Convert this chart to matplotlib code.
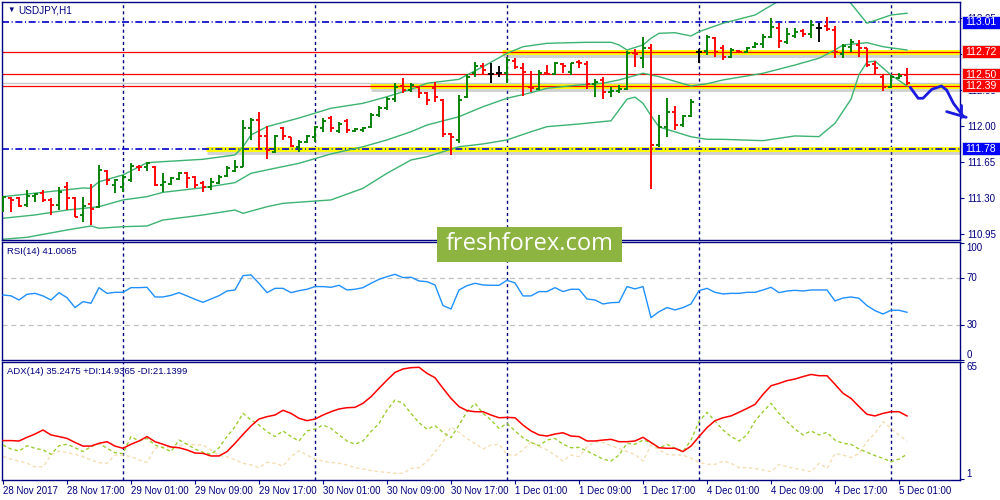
import numpy as np
import matplotlib
matplotlib.use("Agg")
import matplotlib.pyplot as plt
from matplotlib.collections import LineCollection
from matplotlib.patches import Rectangle
import matplotlib.patheffects as pe

plt.rcParams['font.family'] = ['Liberation Sans', 'DejaVu Sans']

# ---------------- data ----------------
symbol = "USDJPY,H1"
opens = [111.232, 111.300, 111.300, 111.232, 111.319, 111.352, 111.281, 111.232, 111.404, 111.297,
         111.135, 111.242, 111.215, 111.565, 111.426, 111.410, 111.475, 111.604, 111.598, 111.598,
         111.426, 111.436, 111.482, 111.546, 111.501, 111.449, 111.404, 111.449, 111.514, 111.565,
         111.604, 111.980, 112.058, 111.903, 111.747, 111.980, 111.893, 111.796, 111.844, 111.893,
         111.980, 112.077, 111.951, 112.048, 111.951, 111.961, 111.990, 112.107, 112.175, 112.262,
         112.388, 112.349, 112.379, 112.320, 112.369, 112.252, 111.922, 111.864, 112.281, 112.515,
         112.583, 112.505, 112.515, 112.518, 112.634, 112.563, 112.382, 112.356, 112.518, 112.505,
         112.599, 112.527, 112.624, 112.602, 112.408, 112.447, 112.333, 112.343, 112.356, 112.712,
         112.658, 112.755, 111.815, 111.993, 112.139, 112.009, 112.097, 112.722, 112.728, 112.858,
         112.761, 112.673, 112.731, 112.722, 112.770, 112.794, 112.867, 112.955, 112.819, 112.877,
         112.923, 112.891, 112.949, 112.974, 112.932, 112.696, 112.770, 112.787, 112.755, 112.599,
         112.479, 112.382, 112.469, 112.495]
highs = [111.319, 111.307, 111.307, 111.378, 111.346, 111.378, 111.297, 111.404, 111.458, 111.313,
         111.313, 111.439, 111.621, 111.572, 111.482, 111.524, 111.637, 111.621, 111.653, 111.611,
         111.540, 111.501, 111.556, 111.556, 111.514, 111.468, 111.491, 111.524, 111.611, 111.669,
         112.058, 112.077, 112.136, 112.000, 111.912, 111.990, 111.896, 111.864, 111.912, 112.000,
         112.077, 112.097, 112.039, 112.068, 111.980, 111.990, 112.126, 112.194, 112.281, 112.417,
         112.466, 112.417, 112.388, 112.330, 112.427, 112.262, 111.932, 112.301, 112.505, 112.622,
         112.612, 112.612, 112.583, 112.673, 112.658, 112.612, 112.537, 112.544, 112.592, 112.619,
         112.615, 112.615, 112.641, 112.634, 112.453, 112.479, 112.382, 112.398, 112.731, 112.745,
         112.867, 112.796, 112.107, 112.269, 112.194, 112.107, 112.259, 112.745, 112.884, 112.867,
         112.787, 112.755, 112.738, 112.770, 112.819, 112.891, 113.052, 112.998, 112.949, 112.949,
         112.942, 113.030, 112.998, 113.062, 112.974, 112.794, 112.845, 112.835, 112.761, 112.631,
         112.495, 112.495, 112.512, 112.566]
lows = [111.167, 111.167, 111.212, 111.215, 111.264, 111.264, 111.135, 111.183, 111.183, 111.112,
        111.067, 111.038, 111.200, 111.426, 111.346, 111.361, 111.458, 111.565, 111.565, 111.417,
        111.361, 111.426, 111.475, 111.394, 111.394, 111.361, 111.378, 111.436, 111.501, 111.556,
        111.598, 111.864, 111.766, 111.679, 111.737, 111.864, 111.796, 111.747, 111.835, 111.844,
        111.941, 111.941, 111.932, 111.932, 111.941, 111.941, 111.980, 112.087, 112.155, 112.233,
        112.320, 112.330, 112.272, 112.204, 112.233, 111.893, 111.718, 111.835, 112.272, 112.476,
        112.495, 112.417, 112.476, 112.420, 112.551, 112.291, 112.333, 112.349, 112.495, 112.495,
        112.518, 112.495, 112.560, 112.356, 112.284, 112.259, 112.284, 112.323, 112.349, 112.576,
        112.560, 111.385, 111.793, 111.896, 111.961, 111.993, 112.084, 112.609, 112.690, 112.673,
        112.641, 112.658, 112.706, 112.706, 112.755, 112.761, 112.852, 112.761, 112.794, 112.852,
        112.867, 112.852, 112.819, 112.923, 112.658, 112.658, 112.716, 112.673, 112.576, 112.495,
        112.340, 112.366, 112.456, 112.398]
closes = [111.310, 111.281, 111.222, 111.319, 111.339, 111.281, 111.232, 111.361, 111.297, 111.118,
          111.225, 111.193, 111.572, 111.475, 111.475, 111.501, 111.611, 111.598, 111.637, 111.426,
          111.458, 111.491, 111.546, 111.491, 111.426, 111.410, 111.458, 111.501, 111.589, 111.604,
          111.977, 112.058, 111.903, 111.766, 111.903, 111.903, 111.805, 111.844, 111.903, 111.990,
          112.048, 111.980, 112.019, 111.961, 111.971, 111.980, 112.107, 112.175, 112.262, 112.379,
          112.349, 112.398, 112.320, 112.252, 112.281, 111.922, 111.893, 112.252, 112.476, 112.583,
          112.544, 112.505, 112.515, 112.641, 112.570, 112.524, 112.366, 112.512, 112.502, 112.609,
          112.583, 112.609, 112.609, 112.408, 112.430, 112.333, 112.343, 112.356, 112.706, 112.699,
          112.755, 111.815, 111.987, 112.139, 112.009, 112.097, 112.236, 112.722, 112.867, 112.722,
          112.673, 112.738, 112.716, 112.761, 112.794, 112.867, 112.964, 112.826, 112.891, 112.916,
          112.891, 112.981, 112.949, 112.942, 112.722, 112.780, 112.813, 112.761, 112.592, 112.566,
          112.382, 112.479, 112.488, 112.415]

# Bollinger bands (bar index, price)
bb_upper_idx = [0, 10, 11, 12, 15, 18, 20, 25, 29, 30, 31, 33, 37, 41, 45, 48, 51, 53, 57, 58,
                60, 63, 65, 68, 73, 76, 77, 78, 80, 81, 82, 84, 86, 87, 90, 94, 96, 98, 101, 104,
                106, 108, 111, 113]
bb_upper = [111.313, 111.397, 111.394, 111.458, 111.524, 111.643, 111.653, 111.676, 111.718, 111.798,
            111.912, 111.993, 112.077, 112.172, 112.220, 112.284, 112.356, 112.415, 112.453, 112.495,
            112.576, 112.706, 112.770, 112.803, 112.813, 112.813, 112.787, 112.738, 112.787, 112.852,
            112.900, 112.906, 112.874, 112.916, 112.998, 113.078, 113.170, 113.260, 113.330, 113.300,
            113.190, 112.998, 113.078, 113.095]
bb_mid_idx = [0, 4, 8, 12, 15, 18, 20, 25, 29, 31, 34, 37, 41, 45, 48, 51, 53, 57, 60, 63,
              66, 68, 72, 75, 77, 80, 82, 86, 88, 90, 95, 99, 102, 104, 105, 108, 110, 113]
bb_mid = [111.103, 111.135, 111.183, 111.215, 111.281, 111.313, 111.355, 111.400, 111.449, 111.540,
          111.589, 111.637, 111.728, 111.798, 111.864, 111.944, 112.009, 112.090, 112.187, 112.269,
          112.323, 112.366, 112.398, 112.415, 112.447, 112.512, 112.479, 112.388, 112.410, 112.447,
          112.512, 112.592, 112.658, 112.738, 112.787, 112.809, 112.770, 112.738]
bb_low_idx = [0, 3, 8, 11, 12, 15, 18, 20, 25, 29, 30, 33, 35, 41, 45, 48, 51, 53, 57, 60,
              63, 66, 68, 72, 76, 78, 79, 80, 81, 82, 86, 88, 90, 95, 99, 102, 104, 106, 107, 108,
              109, 111, 113]
bb_low = [110.899, 110.918, 110.989, 111.028, 111.006, 111.021, 111.028, 111.086, 111.135, 111.183,
          111.151, 111.215, 111.248, 111.281, 111.394, 111.540, 111.669, 111.701, 111.798, 111.825,
          111.864, 111.944, 111.993, 112.019, 112.050, 112.260, 112.280, 112.220, 112.100, 111.990,
          111.895, 111.870, 111.870, 111.857, 111.903, 111.896, 112.026, 112.260, 112.500, 112.620,
          112.630, 112.495, 112.388]

rsi = [55.7, 55.0, 51.4, 56.3, 57.1, 54.9, 51.4, 57.7, 53.4, 44.9,
       50.0, 48.6, 62.0, 57.1, 58.0, 58.0, 62.0, 62.0, 62.3, 54.0,
       54.0, 55.4, 57.7, 54.9, 52.0, 49.4, 52.3, 55.1, 59.1, 60.0,
       72.3, 72.9, 65.7, 57.7, 61.4, 61.4, 57.7, 59.4, 60.6, 62.9,
       62.9, 62.3, 64.0, 60.0, 60.6, 62.0, 65.7, 69.1, 71.4, 73.4,
       70.6, 70.9, 67.7, 67.1, 64.3, 46.6, 43.7, 60.0, 63.7, 65.7,
       64.3, 64.0, 64.0, 68.3, 66.0, 54.9, 54.9, 58.6, 58.6, 62.0,
       58.6, 60.6, 60.6, 52.3, 51.4, 48.0, 49.1, 49.4, 62.9, 60.9,
       62.9, 36.3, 41.4, 44.9, 42.9, 44.9, 48.0, 59.4, 61.4, 58.0,
       56.6, 57.1, 57.1, 58.0, 58.0, 60.0, 62.3, 57.7, 59.1, 59.7,
       59.1, 60.0, 60.0, 60.0, 50.6, 53.1, 54.0, 52.9, 46.6, 42.3,
       39.4, 42.6, 42.6, 40.9]
adx = [22.0, 22.0, 21.8, 23.8, 25.6, 27.8, 25.1, 24.2, 23.2, 21.0,
       19.0, 19.0, 20.5, 21.4, 19.0, 17.8, 20.0, 21.8, 24.2, 21.4,
       20.0, 18.5, 18.1, 16.9, 15.2, 15.0, 13.6, 13.6, 16.0, 20.5,
       25.4, 30.0, 33.8, 35.1, 36.0, 38.6, 36.9, 34.2, 32.9, 33.8,
       36.0, 37.8, 39.3, 40.0, 40.2, 42.4, 46.0, 50.6, 55.1, 59.3,
       61.2, 61.9, 62.1, 58.8, 56.4, 50.6, 45.1, 40.6, 38.4, 37.8,
       37.8, 36.0, 34.5, 34.7, 34.5, 30.5, 27.3, 25.1, 24.5, 25.6,
       26.3, 24.5, 24.2, 21.8, 21.8, 22.3, 22.7, 21.4, 21.4, 21.8,
       23.8, 21.0, 18.1, 17.8, 17.8, 16.0, 19.0, 24.2, 29.1, 32.9,
       34.5, 35.5, 37.5, 39.6, 41.8, 47.3, 52.0, 53.3, 54.8, 55.7,
       57.0, 58.2, 57.5, 57.5, 52.8, 47.9, 45.1, 40.6, 36.4, 35.5,
       36.9, 37.8, 37.8, 35.5]
plus_di = [19.6, 17.4, 16.3, 19.2, 17.8, 16.9, 14.5, 19.2, 20.0, 18.1,
           16.0, 18.7, 20.5, 17.8, 15.4, 14.9, 24.2, 21.8, 23.2, 19.6,
           18.1, 16.0, 22.3, 20.0, 17.4, 15.6, 14.5, 18.1, 24.2, 29.6,
           36.9, 33.3, 30.5, 26.9, 24.2, 27.3, 24.2, 21.8, 27.3, 28.3,
           30.5, 28.7, 25.1, 21.8, 20.0, 21.8, 26.9, 31.4, 38.7, 44.2,
           42.4, 36.9, 31.8, 28.2, 30.2, 26.5, 23.6, 30.5, 37.8, 42.4,
           36.9, 33.3, 28.7, 31.4, 27.3, 23.6, 21.0, 19.2, 22.3, 23.2,
           20.0, 18.1, 18.3, 16.3, 14.1, 11.9, 10.8, 14.1, 20.5, 20.0,
           22.3, 21.0, 17.8, 20.0, 17.8, 16.0, 22.3, 32.4, 37.5, 32.7,
           27.8, 24.2, 21.8, 25.1, 32.7, 37.8, 42.4, 36.9, 32.4, 28.3,
           25.1, 27.3, 25.1, 26.5, 22.3, 20.5, 20.0, 17.4, 15.6, 13.8,
           12.3, 10.5, 11.9, 14.5]
minus_di = [13.2, 11.9, 10.8, 9.6, 7.7, 7.7, 14.1, 16.3, 15.4, 14.5,
            13.2, 11.4, 9.9, 9.6, 14.1, 14.1, 13.2, 11.4, 10.1, 17.8,
            18.7, 18.1, 19.2, 20.0, 19.6, 19.6, 16.9, 13.8, 13.2, 11.4,
            9.6, 8.7, 7.2, 10.1, 9.6, 8.1, 13.2, 16.5, 14.1, 11.9,
            10.8, 10.1, 9.6, 8.7, 7.2, 6.5, 5.6, 5.0, 4.6, 4.1,
            4.1, 6.8, 7.2, 10.5, 16.0, 21.4, 29.6, 26.5, 23.2, 20.5,
            17.4, 19.6, 20.0, 14.5, 13.8, 16.9, 21.4, 18.7, 16.9, 14.1,
            10.8, 14.1, 13.2, 18.7, 21.4, 21.0, 19.2, 17.8, 16.0, 14.5,
            10.8, 19.6, 16.9, 14.5, 14.1, 14.1, 12.3, 10.1, 9.0, 9.0,
            10.8, 9.6, 7.2, 7.2, 6.8, 5.9, 5.0, 9.0, 7.7, 6.8,
            5.9, 5.0, 9.6, 6.8, 15.0, 14.1, 12.7, 15.0, 21.4, 26.0,
            32.4, 28.7, 25.1, 21.8]

rsi_label = "RSI(14) 41.0065"
adx_label = "ADX(14) 35.2475 +DI:14.9365 -DI:21.1399"

date_pos = [0, 8, 16, 24, 32, 40, 48, 56, 64, 72, 80, 88, 96, 104, 112]
date_labels = ["28 Nov 2017", "28 Nov 17:00", "29 Nov 01:00", "29 Nov 09:00", "29 Nov 17:00",
               "30 Nov 01:00", "30 Nov 09:00", "30 Nov 17:00", "1 Dec 01:00", "1 Dec 09:00",
               "1 Dec 17:00", "4 Dec 01:00", "4 Dec 09:00", "4 Dec 17:00", "5 Dec 01:00"]
day_starts = [15, 39, 63, 87, 111]

price_ticks = [110.95, 111.30, 111.65, 112.00, 112.35, 112.70, 113.05]
dashdot_levels = [113.01, 111.78]
red_levels = [112.72, 112.50, 112.39]
yellow_levels = [111.78, 112.39, 112.72]
yellow_start = [25.4, 45.9, 62.4]
yellow_end = 119.6
box_labels = [113.01, 112.72, 112.50, 112.39, 111.78]
box_colors = ['#0000FF', '#FF0000', '#FF0000', '#FF0000', '#0000FF']

arrow_x = [113.4, 114.4, 115.0, 116.1, 117.3, 117.96, 118.8, 120.1]
arrow_y = [112.376, 112.269, 112.269, 112.356, 112.388, 112.349, 112.220, 112.087]
arrow_head1_x = [117.96, 120.4]
arrow_head1_y = [112.139, 112.084]
arrow_head2_x = [119.8, 119.8]
arrow_head2_y = [112.204, 112.087]

# ---------------- figure ----------------
W, H = 1000, 500
fig = plt.figure(figsize=(W / 100, H / 100), dpi=100)
fig.patch.set_facecolor('white')


def rect(x0, y0, x1, y1):
    return [x0 / W, 1 - y1 / H, (x1 - x0) / W, (y1 - y0) / H]


NAVY = '#000080'
ax = fig.add_axes(rect(2, 2, 960, 240))
ax_rsi = fig.add_axes(rect(2, 242, 960, 360))
ax_adx = fig.add_axes(rect(2, 362, 960, 480))

for a in (ax, ax_rsi, ax_adx):
    a.set_facecolor('white')
    a.set_xlim(-0.125, 119.625)
    for s in a.spines.values():
        s.set_color(NAVY)
        s.set_linewidth(1.0)
    a.yaxis.tick_right()
    a.tick_params(axis='y', left=False, labelleft=False, right=True, labelright=True,
                  direction='out', length=3, width=0.8, color=NAVY, labelsize=7,
                  labelcolor=NAVY, pad=2)
    a.tick_params(axis='x', bottom=False, labelbottom=False)
    for d in day_starts:
        a.axvline(d, color=NAVY, lw=1.0, ls=(0, (2.2, 2.2)), zorder=1)

# ---- main price panel ----
ax.set_ylim(110.8917, 113.2044)
ax.set_yticks(price_ticks)
ax.set_yticklabels([f"{v:.2f}" for v in price_ticks])

shadow = [pe.SimpleLineShadow(offset=(0.6, -2.2), shadow_color='#7f7f7f', alpha=0.35), pe.Normal()]
for lvl, x0 in zip(yellow_levels, yellow_start):
    ax.plot([x0, yellow_end], [lvl, lvl], color='#FFFF00', lw=3.6, zorder=1.5,
            solid_capstyle='butt', path_effects=shadow)

ax.axhline(closes[-1], color='#C8C8C8', lw=1.0, zorder=1.6)
for lvl in red_levels:
    ax.axhline(lvl, color='#FF0000', lw=0.9, zorder=1.7)
for lvl in dashdot_levels:
    ax.axhline(lvl, color='#0000CD', lw=1.2, ls=(0, (4.2, 1.6, 0.6, 1.6)), zorder=1.7)

ax.plot(bb_upper_idx, bb_upper, color='#3CB371', lw=1.0, zorder=2)
ax.plot(bb_mid_idx, bb_mid, color='#3CB371', lw=1.0, zorder=2)
ax.plot(bb_low_idx, bb_low, color='#3CB371', lw=1.0, zorder=2)

tk = 0.375
segs, cols = [], []
for i, (o, h, l, c) in enumerate(zip(opens, highs, lows, closes)):
    col = '#008000' if c > o else ('#FF0000' if c < o else '#000000')
    segs += [[(i, l), (i, h)], [(i - tk, o), (i, o)], [(i, c), (i + tk, c)]]
    cols += [col] * 3
ax.add_collection(LineCollection(segs, colors=cols, linewidths=1.35, capstyle='butt', zorder=3))

ax.plot(arrow_x, arrow_y, color='#1A1AE0', lw=2.0, clip_on=False, zorder=6,
        solid_capstyle='round', solid_joinstyle='round')
ax.plot(arrow_head1_x, arrow_head1_y, color='#1A1AE0', lw=2.0, clip_on=False, zorder=6,
        solid_capstyle='round')
ax.plot(arrow_head2_x, arrow_head2_y, color='#1A1AE0', lw=2.0, clip_on=False, zorder=6,
        solid_capstyle='round')

# ---- RSI panel ----
ax_rsi.set_ylim(0, 101.1)
ax_rsi.set_yticks([0, 30, 70, 100])
ax_rsi.set_yticklabels(['', '', '', ''])
for lvl in (30, 70):
    ax_rsi.axhline(lvl, color='#C0C0C0', lw=0.9, ls=(0, (4, 3)), zorder=1)
ax_rsi.plot(range(len(rsi)), rsi, color='#1E90FF', lw=1.0, zorder=3)
rt = ax_rsi.get_yaxis_transform()
for v, va in ((100, 'top'), (70, 'center'), (30, 'center'), (0, 'bottom')):
    ax_rsi.text(1.0065, v, str(v), transform=rt, ha='left', va=va, fontsize=7, color=NAVY)

# ---- ADX panel ----
ax_adx.set_ylim(0.45, 65)
ax_adx.set_yticks([1, 65])
ax_adx.set_yticklabels(['', ''])
xs = range(len(adx))
ax_adx.plot(xs, minus_di, color='#F5DEB3', lw=1.0, ls=(0, (2.5, 2)), zorder=2)
ax_adx.plot(xs, plus_di, color='#9ACD32', lw=1.0, ls=(0, (2.5, 2)), zorder=3)
ax_adx.plot(xs, adx, color='#FF0000', lw=1.1, zorder=4)
at = ax_adx.get_yaxis_transform()
ax_adx.text(1.0065, 65, '65', transform=at, ha='left', va='top', fontsize=7, color=NAVY)
ax_adx.text(1.0065, 1, '1', transform=at, ha='left', va='bottom', fontsize=7, color=NAVY)

ax_adx.set_xticks(date_pos)
ax_adx.set_xticklabels(date_labels, ha='left')
ax_adx.tick_params(axis='x', bottom=True, labelbottom=True, direction='out', length=3,
                   width=0.8, color=NAVY, labelsize=7, labelcolor=NAVY, pad=1.5)

# ---- overlay (labels, watermark) ----
ov = fig.add_axes([0, 0, 1, 1])
ov.set_xlim(0, W)
ov.set_ylim(H, 0)
ov.axis('off')
ov.set_zorder(10)
ov.patch.set_alpha(0)

for price, col in zip(box_labels, box_colors):
    y = H - ax.transData.transform((0, price))[1]
    ov.add_patch(Rectangle((962, y - 6.5), 40, 13, fc=col, ec='#E0E0E0', lw=0.6))
    ov.text(965, y + 0.3, f"{price:.2f}", color='white', fontsize=7.5, ha='left', va='center')

ov.text(7, 10.5, "\u25BC", color=NAVY, fontsize=5.5, ha='left', va='center')
ov.text(18, 10.5, symbol, color=NAVY, fontsize=7.2, ha='left', va='center')
ov.text(7, 251, rsi_label, color=NAVY, fontsize=6.8, ha='left', va='center')
ov.text(7, 371, adx_label, color=NAVY, fontsize=6.8, ha='left', va='center')

ov.add_patch(Rectangle((437, 227), 185, 35, fc='#8DB440', ec='none'))
ov.text(529.5, 244, "freshforex.com", color='white', fontsize=17, ha='center', va='center',
        family=['Open Sans', 'DejaVu Sans'])

fig.savefig('out.png', dpi=100)
